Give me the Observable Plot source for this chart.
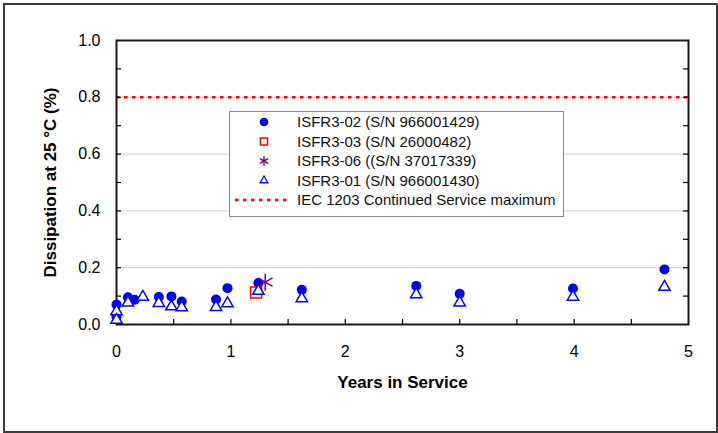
<!DOCTYPE html>
<html>
<head>
<meta charset="utf-8">
<script src="https://cdn.jsdelivr.net/npm/d3@7"></script>
<script src="https://cdn.jsdelivr.net/npm/@observablehq/plot@0.6"></script>
<style>
  html, body { margin: 0; padding: 0; background: #fff; }
  #wrap { position: relative; width: 718px; height: 433px; overflow: hidden; }
  #wrap svg { position: absolute; left: 0; top: 0; }
  #border { position: absolute; left: 3px; top: 3px; width: 715px; height: 430px;
            box-sizing: border-box; border: 2px solid #3c3c3c; pointer-events: none; }
</style>
</head>
<body>
<div id="wrap"><div id="border"></div></div>
<script>
// ---- data ----
const seriesNames = [
  "ISFR3-02 (S/N 966001429)",
  "ISFR3-03 (S/N 26000482)",
  "ISFR3-06 ((S/N 37017339)",
  "ISFR3-01 (S/N 966001430)"
];
const limitName = "IEC 1203 Continued Service maximum";
const limitValue = [0.8];

const years02 = [0, 0, 0.10, 0.16, 0.37, 0.48, 0.57, 0.87, 0.97, 1.24, 1.62, 2.62, 3.00, 3.99, 4.79];
const diss02  = [0.070, 0.028, 0.096, 0.087, 0.097, 0.099, 0.081, 0.088, 0.128, 0.146, 0.122, 0.136, 0.108, 0.127, 0.194];

const years03 = [1.22];
const diss03  = [0.113];

const years06 = [1.30];
const diss06  = [0.149];

const years01 = [0, 0, 0.10, 0.23, 0.37, 0.48, 0.57, 0.87, 0.97, 1.24, 1.62, 2.62, 3.00, 3.99, 4.79];
const diss01  = [0.046, 0.016, 0.077, 0.097, 0.075, 0.063, 0.060, 0.061, 0.074, 0.118, 0.092, 0.106, 0.077, 0.097, 0.132];

const xTickLabels = [0, 1, 2, 3, 4, 5];
const xTickMarks = [0.5, 1, 1.5, 2, 2.5, 3, 3.5, 4, 4.5];
const yTickLabels = [0, 0.2, 0.4, 0.6, 0.8, 1.0];
const yTickMarks = [0.1, 0.2, 0.3, 0.4, 0.5, 0.6, 0.7, 0.8, 0.9];
const yGrid = [0.2, 0.4, 0.6, 0.8];

const xTitle = "Years in Service";
const yTitle = "Dissipation at 25 °C (%)";

// ---- tables ----
const toRows = (xs, ys) => xs.map((x, i) => ({x, y: ys[i]}));
const rows02 = toRows(years02, diss02);
const rows03 = toRows(years03, diss03);
const rows06 = toRows(years06, diss06);
const rows01 = toRows(years01, diss01);

const FONT = "Arial, 'Liberation Sans', sans-serif";
const W = 718, H = 433;
const mL = 116, mR = 30, mT = 40, mB = 109;
const plotW = W - mL - mR, plotH = H - mT - mB;
const tick = 5;

// legend as a render function
function legend() {
  const g = d3.create("svg:g").attr("font-family", FONT).attr("font-size", 15).attr("text-anchor", "start");
  const bx = 229.5, by = 111.5, bw = 334, bh = 105;
  g.append("rect").attr("x", bx).attr("y", by).attr("width", bw).attr("height", bh)
    .attr("fill", "#fff").attr("stroke", "#8a8a8a").attr("stroke-width", 1);
  const sx = 264, tx = 297, y0 = 122, dy = 19.5;
  const sym = [
    {type: d3.symbolCircle, size: Math.PI * 4.3 * 4.3, fill: "#0000ff", stroke: "none", sw: 0},
    {type: d3.symbolSquare, size: 49, fill: "#fff", stroke: "#ff0000", sw: 1.5},
    {type: d3.symbolAsterisk, size: 65, fill: "none", stroke: "#800080", sw: 1.4},
    {type: d3.symbolTriangle, size: 26, fill: "#fff", stroke: "#0000ff", sw: 1.3}
  ];
  seriesNames.forEach((name, i) => {
    const y = y0 + i * dy;
    g.append("path").attr("d", d3.symbol(sym[i].type, sym[i].size)())
      .attr("transform", `translate(${sx},${y})`)
      .attr("fill", sym[i].fill).attr("stroke", sym[i].stroke).attr("stroke-width", sym[i].sw);
    g.append("text").attr("x", tx).attr("y", y).attr("dy", "0.35em")
      .attr("text-anchor", "start").attr("fill", "#111").text(name);
  });
  const yl = y0 + 4 * dy;
  g.append("line").attr("x1", 235).attr("x2", 291).attr("y1", yl).attr("y2", yl)
    .attr("stroke", "#ff0000").attr("stroke-width", 2.5).attr("stroke-dasharray", "3.5,4.5");
  g.append("text").attr("x", tx).attr("y", yl).attr("dy", "0.35em")
    .attr("text-anchor", "start").attr("fill", "#111").text(limitName);
  return g.node();
}

const chart = Plot.plot({
  width: W, height: H,
  marginLeft: mL, marginRight: mR, marginTop: mT, marginBottom: mB,
  style: {fontFamily: FONT, background: "transparent", overflow: "visible"},
  x: {domain: [0, 5], axis: null},
  y: {domain: [0, 1], axis: null},
  marks: [
    Plot.ruleY(yGrid, {stroke: "#d2d2d2", strokeWidth: 1}),
    Plot.ruleY(limitValue, {stroke: "#ff0000", strokeWidth: 2.5, strokeDasharray: "3.5,4.5"}),
    Plot.frame({stroke: "#1a1a1a", strokeWidth: 2}),
    Plot.tickY(yTickMarks, {y: d => d, stroke: "#000", strokeWidth: 1.2, insetRight: plotW - tick}),
    Plot.tickY(yTickMarks, {y: d => d, stroke: "#000", strokeWidth: 1.2, insetLeft: plotW - tick}),
    Plot.tickX(xTickMarks, {x: d => d, stroke: "#000", strokeWidth: 1.2, insetTop: plotH - tick}),
    Plot.axisY(yTickLabels, {anchor: "left", tickSize: 0, tickPadding: 16, tickFormat: d3.format(".1f"),
      fontSize: 16, fill: "#000", label: null}),
    Plot.axisX(xTickLabels, {anchor: "bottom", tickSize: 0, tickPadding: 21, tickFormat: d3.format("d"),
      fontSize: 16, fill: "#000", label: null}),
    Plot.dot(rows02, {x: "x", y: "y", symbol: "circle", r: 5, fill: "#0000ff"}),
    Plot.dot(rows03, {x: "x", y: "y", symbol: "square", r: 6.2, fill: "#fff", stroke: "#ff0000", strokeWidth: 1.5}),
    Plot.dot(rows06, {x: "x", y: "y", symbol: "asterisk", r: 8, stroke: "#800080", strokeWidth: 1.5}),
    Plot.dot(rows01, {x: "x", y: "y", symbol: "triangle", r: 4.2, fill: "#fff", stroke: "#0000ff", strokeWidth: 1.5}),
    legend,
    Plot.text([xTitle], {frameAnchor: "bottom", dy: 58, fontSize: 17, fontWeight: "bold", fill: "#000",
      text: d => d, textAnchor: "middle", lineAnchor: "middle"}),
    Plot.text([yTitle], {frameAnchor: "left", dx: -66, rotate: -90, fontSize: 17, fontWeight: "bold", fill: "#000",
      text: d => d, textAnchor: "middle", lineAnchor: "middle"})
  ]
});
document.getElementById("wrap").insertBefore(chart, document.getElementById("border"));
</script>
</body>
</html>
